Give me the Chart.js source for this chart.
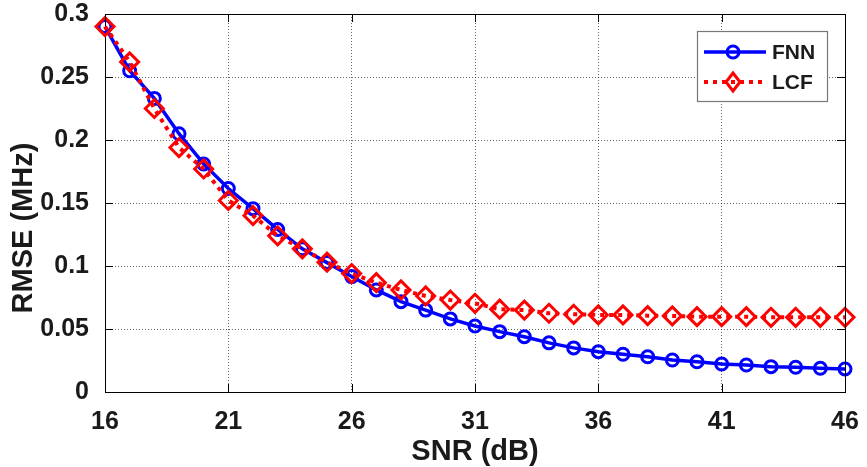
<!doctype html>
<html>

<head>
    <title>RMSE vs SNR</title>
    <script src="https://cdn.jsdelivr.net/npm/chart.js@4.4.1/dist/chart.umd.min.js"></script>
    <style>
        body { margin: 0; background: #fff; }
    </style>
</head>

<body>
    <canvas id="chart-area" width="867" height="467"></canvas>
    <script>
    // SNR (dB) on x
    var snr = [16, 17, 18, 19, 20, 21, 22, 23, 24, 25, 26, 27, 28, 29, 30, 31,
               32, 33, 34, 35, 36, 37, 38, 39, 40, 41, 42, 43, 44, 45, 46];
    // RMSE (MHz)
    var fnn = [0.290, 0.255, 0.233, 0.205, 0.181, 0.1615, 0.1455, 0.129, 0.1136, 0.1027, 0.0916,
               0.081, 0.0717, 0.065, 0.058, 0.0524, 0.0479, 0.0439, 0.039, 0.035, 0.032,
               0.030, 0.028, 0.0254, 0.024, 0.0222, 0.0214, 0.0201, 0.0196, 0.0188, 0.0183];
    var lcf = [0.290, 0.262, 0.225, 0.194, 0.177, 0.152, 0.140, 0.124, 0.1136, 0.103, 0.094,
               0.0868, 0.081, 0.0762, 0.073, 0.0704, 0.0657, 0.065, 0.0625, 0.0617, 0.0612,
               0.0612, 0.0606, 0.0604, 0.0598, 0.0598, 0.0598, 0.0593, 0.0593, 0.0593, 0.0593];
    var seriesNames = ['FNN', 'LCF'];
    var xTitle = 'SNR (dB)';
    var yTitle = 'RMSE (MHz)';

    var FONT = "'Liberation Sans', Arial, sans-serif";
    var BLUE = '#0000ff';
    var RED = '#ff0000';

    var toPoints = function(ys) {
        return snr.map(function(x, i) { return { x: x, y: ys[i] }; });
    };

    // box, inward ticks, legend and y title, matlab style
    var matlabBits = {
        id: 'matlabBits',
        afterDraw: function(chart) {
            var ctx = chart.ctx;
            var a = chart.chartArea;
            var xs = chart.scales.x, ys = chart.scales.y;
            ctx.save();
            ctx.strokeStyle = '#000';
            ctx.lineWidth = 1;
            ctx.beginPath();
            ctx.moveTo(a.left, a.top + 0.5);
            ctx.lineTo(a.right + 0.5, a.top + 0.5);
            ctx.lineTo(a.right + 0.5, a.bottom);
            // inward ticks
            xs.ticks.forEach(function(t) {
                var px = Math.round(xs.getPixelForValue(t.value)) + 0.5;
                ctx.moveTo(px, a.bottom); ctx.lineTo(px, a.bottom - 8);
                ctx.moveTo(px, a.top); ctx.lineTo(px, a.top + 8);
            });
            ys.ticks.forEach(function(t) {
                var py = Math.round(ys.getPixelForValue(t.value)) + 0.5;
                ctx.moveTo(a.left, py); ctx.lineTo(a.left + 8, py);
                ctx.moveTo(a.right, py); ctx.lineTo(a.right - 8, py);
            });
            ctx.stroke();

            // y title
            ctx.fillStyle = '#1a1a1a';
            ctx.font = 'bold 29px ' + FONT;
            ctx.textAlign = 'center';
            ctx.textBaseline = 'middle';
            ctx.translate(24, 228);
            ctx.rotate(-Math.PI / 2);
            ctx.fillText(yTitle, 0, 0);
            ctx.restore();

            // legend
            ctx.save();
            ctx.fillStyle = '#fff';
            ctx.fillRect(697.5, 31.5, 130, 70);
            ctx.strokeStyle = '#777';
            ctx.lineWidth = 1.2;
            ctx.strokeRect(697.5, 31.5, 130, 70);
            var rows = [52, 82];
            // FNN
            ctx.strokeStyle = BLUE;
            ctx.lineWidth = 3.5;
            ctx.beginPath();
            ctx.moveTo(704, rows[0]); ctx.lineTo(766, rows[0]);
            ctx.stroke();
            ctx.lineWidth = 3;
            ctx.beginPath();
            ctx.arc(733, rows[0], 6, 0, Math.PI * 2);
            ctx.stroke();
            // LCF
            ctx.strokeStyle = RED;
            ctx.lineWidth = 4;
            ctx.setLineDash([4, 5]);
            ctx.beginPath();
            ctx.moveTo(704, rows[1]); ctx.lineTo(766, rows[1]);
            ctx.stroke();
            ctx.setLineDash([]);
            ctx.lineWidth = 3;
            ctx.beginPath();
            ctx.moveTo(733, rows[1] - 9);
            ctx.lineTo(740, rows[1]);
            ctx.lineTo(733, rows[1] + 9);
            ctx.lineTo(726, rows[1]);
            ctx.closePath();
            ctx.stroke();
            ctx.fillStyle = '#1a1a1a';
            ctx.font = 'bold 21px ' + FONT;
            ctx.textAlign = 'left';
            ctx.textBaseline = 'middle';
            ctx.fillText(seriesNames[0], 772, rows[0] + 1);
            ctx.fillText(seriesNames[1], 772, rows[1] + 1);
            ctx.restore();
        }
    };

    var config = {
        type: 'line',
        data: {
            datasets: [{
                label: seriesNames[0],
                data: toPoints(fnn),
                borderColor: BLUE,
                backgroundColor: 'rgba(0,0,0,0)',
                borderWidth: 3.5,
                pointStyle: 'circle',
                pointRadius: 6,
                pointBorderWidth: 3,
                pointBorderColor: BLUE,
                pointBackgroundColor: 'rgba(0,0,0,0)',
                tension: 0,
                clip: false,
                order: 1
            }, {
                label: seriesNames[1],
                data: toPoints(lcf),
                borderColor: RED,
                backgroundColor: 'rgba(0,0,0,0)',
                borderWidth: 4,
                borderDash: [4, 5],
                pointStyle: 'rectRot',
                pointRadius: 9,
                pointBorderWidth: 3,
                pointBorderColor: RED,
                pointBackgroundColor: 'rgba(0,0,0,0)',
                tension: 0,
                clip: false,
                order: 0
            }]
        },
        options: {
            responsive: false,
            animation: false,
            devicePixelRatio: 1,
            layout: { padding: 0 },
            plugins: {
                legend: { display: false },
                tooltip: { enabled: false }
            },
            scales: {
                x: {
                    type: 'linear',
                    min: 16,
                    max: 46,
                    afterFit: function(s) {
                        s.height = 75;
                        s.paddingLeft = 0;
                        s.paddingRight = 22;
                    },
                    ticks: {
                        stepSize: 5,
                        padding: 15,
                        color: '#1a1a1a',
                        font: { family: FONT, size: 25, weight: 'bold' }
                    },
                    grid: { color: 'rgba(0,0,0,0.6)', lineWidth: 1, drawTicks: false },
                    border: { color: '#000', width: 1, dash: [1, 2] },
                    title: {
                        display: true,
                        text: xTitle,
                        color: '#1a1a1a',
                        padding: { top: 0, bottom: 0 },
                        font: { family: FONT, size: 29, weight: 'bold', lineHeight: 1.05 }
                    }
                },
                y: {
                    min: 0,
                    max: 0.3,
                    afterFit: function(s) {
                        s.width = 105;
                        s.paddingTop = 14;
                        s.paddingBottom = 0;
                    },
                    ticks: {
                        stepSize: 0.05,
                        padding: 16,
                        color: '#1a1a1a',
                        font: { family: FONT, size: 25, weight: 'bold' },
                        callback: function(v) { return String(+v.toFixed(2)); }
                    },
                    grid: { color: 'rgba(0,0,0,0.6)', lineWidth: 1, drawTicks: false },
                    border: { color: '#000', width: 1, dash: [1, 2] }
                }
            }
        },
        plugins: [matlabBits]
    };

    window.onload = function() {
        var ctx = document.getElementById('chart-area').getContext('2d');
        window.myLine = new Chart(ctx, config);
    };
    </script>
</body>

</html>
